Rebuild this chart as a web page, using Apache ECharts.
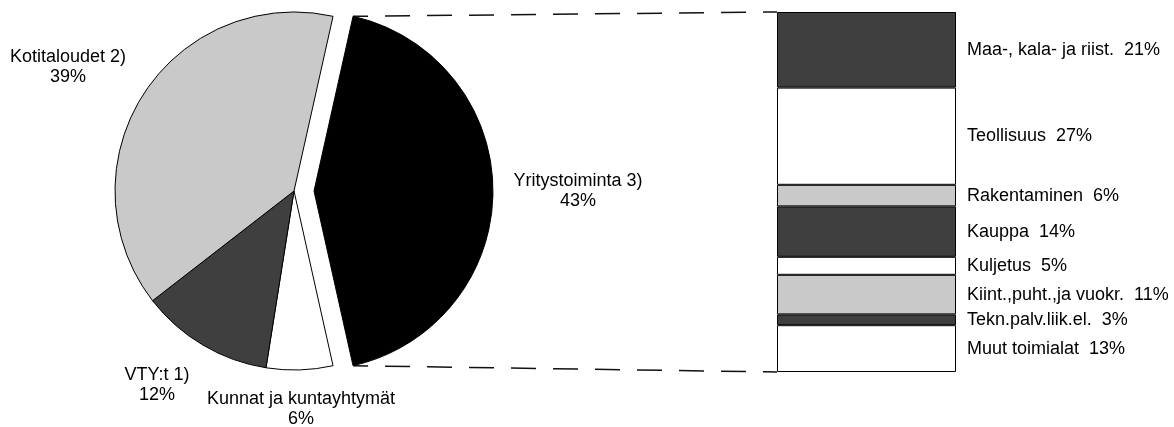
<!DOCTYPE html>
<html>
<head>
<meta charset="utf-8">
<script src="https://cdn.jsdelivr.net/npm/echarts@6/dist/echarts.min.js"></script>
<style>
html,body{margin:0;padding:0;background:#fff;}
#c{width:1174px;height:427px;}
</style>
</head>
<body>
<div id="c"></div>
<script>
// ---- data ----
var pieNames = ['Yritystoiminta 3)', 'Kunnat ja kuntayhtymät', 'VTY:t 1)', 'Kotitaloudet 2)'];
var pieValues = [43, 6, 12, 39];
var barNames = ['Maa-, kala- ja riist.', 'Teollisuus', 'Rakentaminen', 'Kauppa', 'Kuljetus', 'Kiint.,puht.,ja vuokr.', 'Tekn.palv.liik.el.', 'Muut toimialat'];
var barValues = [21, 27, 6, 14, 5, 11, 3, 13];

// ---- styles / layout ----
var DARK = '#3f3f3f', LIGHT = '#c9c9c9', WHITE = '#ffffff', BLACK = '#000000';
var pieColors = [BLACK, WHITE, DARK, LIGHT];
var barColors = [DARK, WHITE, LIGHT, DARK, WHITE, LIGHT, DARK, WHITE];
var pieLabelPos = [[578, 191], [301, 409], [157, 385], [68, 67]];
var FONT = 'Liberation Sans, Arial, Helvetica, sans-serif';
var FS = 18;
var CX = 294, CY = 191, R = 179, OFF = 20;
var pieTotal = pieValues.reduce(function (a, b) { return a + b; }, 0);
// first slice centred on 3 o'clock
var startAngle = (pieValues[0] / pieTotal) * 180;

var chart = echarts.init(document.getElementById('c'), null, {renderer: 'canvas'});

// exploded slice drawn by a second pie series whose centre is shifted right
function pieSeries(cx, visible) {
  return {
    type: 'pie',
    center: [cx, CY],
    radius: [0, R],
    startAngle: startAngle,
    clockwise: true,
    avoidLabelOverlap: false,
    animation: false,
    silent: true,
    emphasis: {disabled: true},
    label: {
      show: true, position: 'inside', color: '#000',
      fontFamily: FONT, fontSize: FS, lineHeight: 20, align: 'center',
      formatter: function (p) { return p.name + '\n' + p.value + '%'; }
    },
    labelLine: {show: false},
    labelLayout: function (p) {
      var pos = pieLabelPos[p.dataIndex];
      return {x: pos[0], y: pos[1], align: 'center', verticalAlign: 'middle'};
    },
    data: pieNames.map(function (n, i) {
      var on = visible(i);
      return {
        name: n, value: pieValues[i],
        itemStyle: on ? {color: pieColors[i], borderColor: BLACK, borderWidth: 1}
                      : {color: 'rgba(0,0,0,0)', borderWidth: 0},
        label: {show: on}
      };
    })
  };
}

var series = [
  pieSeries(CX, function (i) { return i !== 0; }),
  pieSeries(CX + OFF, function (i) { return i === 0; })
];

barNames.forEach(function (n, i) {
  series.push({
    type: 'bar', name: n, stack: 'total', barWidth: '100%',
    xAxisIndex: 0, yAxisIndex: 0,
    animation: false, silent: true,
    itemStyle: {color: barColors[i], borderColor: BLACK, borderWidth: 1},
    label: {
      show: true, position: 'right', distance: 11, color: '#000',
      fontFamily: FONT, fontSize: FS,
      formatter: function (p) { return p.seriesName + '  ' + p.value + '%'; }
    },
    data: [barValues[i]]
  });
});

chart.setOption({
  backgroundColor: '#fff',
  animation: false,
  grid: {left: 777, top: 12, width: 179, height: 360},
  xAxis: {type: 'category', data: [''], show: false},
  yAxis: {type: 'value', min: 0, max: 100, inverse: true, show: false},
  series: series
});

// connector lines (from exploded slice edges to bar corners)
var half = (pieValues[0] / pieTotal) * Math.PI; // half-angle of first slice
var ax = CX + OFF;
var topStart = [ax + R * Math.sin(Math.PI / 2 - half), CY - R * Math.cos(Math.PI / 2 - half)];
var botStart = [topStart[0], CY + R * Math.cos(Math.PI / 2 - half)];
var topEnd = chart.convertToPixel({gridIndex: 0}, [0, 0]);
var botEnd = chart.convertToPixel({gridIndex: 0}, [0, 100]);
var barLeft = 777;
function lerpY(a, b, x) { return a[1] + (b[1] - a[1]) * (x - a[0]) / (barLeft - a[0]); }
var tickX = barLeft - 12;
var tEnd = [barLeft, topEnd[1]], bEnd = [barLeft, botEnd[1]];
chart.setOption({
  graphic: [
    {type: 'line', shape: {x1: topStart[0], y1: topStart[1], x2: tickX, y2: lerpY(topStart, tEnd, tickX)},
      style: {stroke: '#111', lineWidth: 1.5, lineDash: [25, 17], lineDashOffset: 10}},
    {type: 'line', shape: {x1: tickX, y1: lerpY(topStart, tEnd, tickX), x2: barLeft, y2: tEnd[1]},
      style: {stroke: '#111', lineWidth: 1.5}},
    {type: 'line', shape: {x1: botStart[0], y1: botStart[1], x2: tickX, y2: lerpY(botStart, bEnd, tickX)},
      style: {stroke: '#111', lineWidth: 1.5, lineDash: [25, 17], lineDashOffset: 10}},
    {type: 'line', shape: {x1: tickX, y1: lerpY(botStart, bEnd, tickX), x2: barLeft, y2: bEnd[1]},
      style: {stroke: '#111', lineWidth: 1.5}}
  ]
});
</script>
</body>
</html>
